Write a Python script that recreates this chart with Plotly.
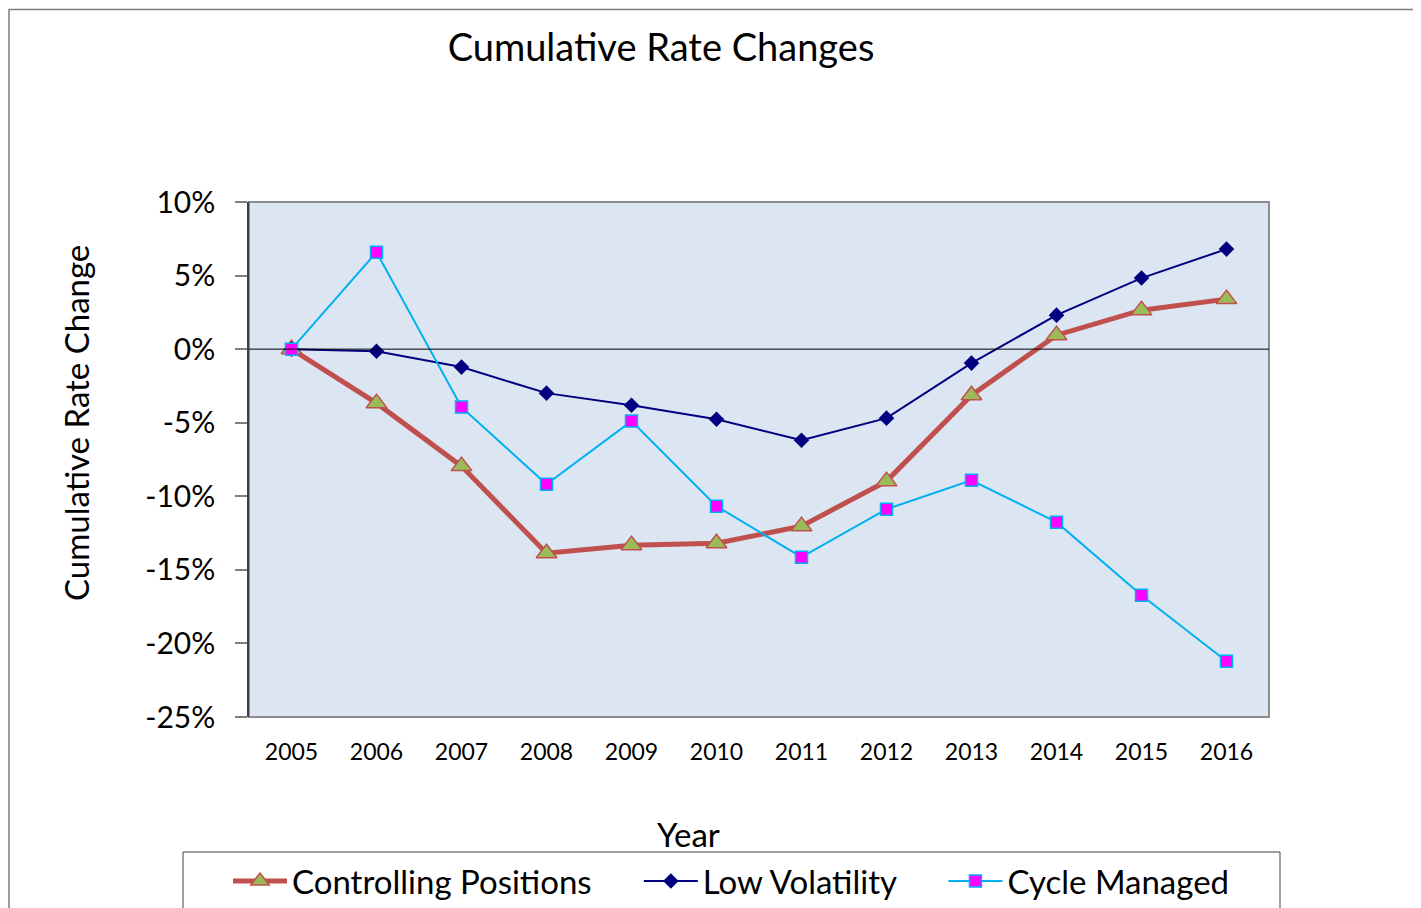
import plotly.graph_objects as go

years = ["2005", "2006", "2007", "2008", "2009", "2010", "2011", "2012", "2013", "2014", "2015", "2016"]
controlling = [0.0, -3.67, -7.95, -13.87, -13.32, -13.19, -12.03, -8.97, -3.13, 0.95, 2.65, 3.40]
low_vol = [0.0, -0.14, -1.22, -2.99, -3.81, -4.76, -6.19, -4.69, -0.95, 2.31, 4.83, 6.80]
cycle = [0.0, 6.59, -3.94, -9.18, -4.89, -10.67, -14.14, -10.88, -8.91, -11.76, -16.72, -21.21]
y_ticks = [10, 5, 0, -5, -10, -15, -20, -25]
y_labels = ["10%", "5%", "0%", "-5%", "-10%", "-15%", "-20%", "-25%"]

FONT = "Lato, 'Open Sans', sans-serif"
PAD = "\u00a0" * 5

fig = go.Figure()
fig.add_trace(go.Scatter(
    x=years, y=controlling, name="Controlling Positions" + PAD, mode="lines+markers",
    line=dict(color="#C0504D", width=5),
    marker=dict(symbol="triangle-up", size=18, color="#9BBB59", line=dict(color="#C0504D", width=1.5)),
))
fig.add_trace(go.Scatter(
    x=years, y=low_vol, name="Low Volatility" + PAD, mode="lines+markers",
    line=dict(color="#000080", width=2),
    marker=dict(symbol="diamond", size=12, color="#000080"),
))
fig.add_trace(go.Scatter(
    x=years, y=cycle, name="Cycle Managed", mode="lines+markers",
    line=dict(color="#00B0F0", width=2),
    marker=dict(symbol="square", size=12, color="#FF00FF", line=dict(color="#00B0F0", width=1.5)),
))

# page coordinates (figure sits 8px inside the page)
# plot area: x 249-1269, y 202-717 ; paper height 515, width 1020
def px(x):
    return (x - 249) / 1020.0

def py(y):
    return (717 - y) / 515.0

shapes = [
    dict(type="line", xref="paper", yref="y", x0=0, x1=1, y0=0, y1=0,
         line=dict(color="black", width=1), layer="above"),
    dict(type="rect", xref="paper", yref="paper", x0=px(9), x1=px(1440), y0=py(940), y1=py(9.5),
         line=dict(color="#7F7F7F", width=1.5), layer="below"),
    dict(type="rect", xref="paper", yref="paper", x0=px(183), x1=px(1280), y0=py(930), y1=py(852),
         line=dict(color="#404040", width=1), layer="below"),
    dict(type="rect", xref="paper", yref="paper", x0=0, x1=1, y0=0, y1=1,
         line=dict(color="#8C8C8C", width=2), layer="below"),
]

annotations = [
    dict(text="Year", xref="paper", yref="paper", x=px(688), y=py(834),
         xanchor="center", yanchor="middle", showarrow=False,
         font=dict(size=33, family=FONT, color="black")),
    dict(text="Cumulative Rate Change", xref="paper", yref="paper", x=px(76), y=py(423),
         xanchor="center", yanchor="middle", showarrow=False, textangle=-90,
         font=dict(size=33, family=FONT, color="black")),
]

fig.update_layout(
    width=1413, height=900,
    margin=dict(l=241, r=152, t=194, b=191, autoexpand=False),
    paper_bgcolor="white",
    plot_bgcolor="#DCE6F2",
    font=dict(family=FONT, color="black"),
    title=dict(text="Cumulative Rate Changes", xref="paper", x=px(661), xanchor="center",
               y=1 - 40 / 900, yanchor="middle", font=dict(size=38, family=FONT)),
    showlegend=True,
    legend=dict(orientation="h", x=px(228), xanchor="left", y=py(881), yanchor="middle",
                font=dict(size=33, family=FONT), bgcolor="rgba(0,0,0,0)", itemwidth=54),
    shapes=shapes,
    annotations=annotations,
    xaxis=dict(
        type="category", range=[-0.5, 11.5], showgrid=False, zeroline=False,
        tickfont=dict(size=23, family=FONT), ticks="", ticklabelstandoff=19,
        showline=False,
    ),
    yaxis=dict(
        range=[-25, 10], tickvals=y_ticks, ticktext=y_labels, showgrid=False,
        zeroline=False, showline=True, linecolor="#404040", linewidth=1.5,
        ticks="outside", ticklen=12, tickcolor="#7F7F7F", tickwidth=1.5,
        ticklabelstandoff=14,
        tickfont=dict(size=30, family=FONT),
    ),
)

fig.write_html("out.html")
